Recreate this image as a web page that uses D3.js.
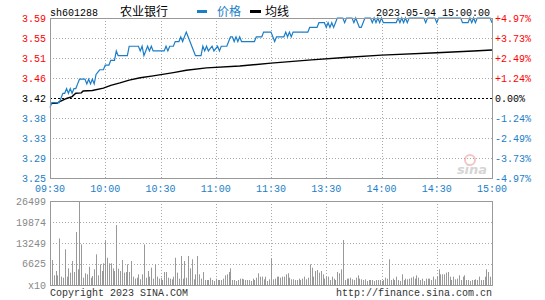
<!DOCTYPE html>
<html>
<head>
<meta charset="utf-8">
<script src="https://cdn.jsdelivr.net/npm/d3@7"></script>
<style>
  body { margin: 0; background: #fff; }
  svg { display: block; }
  text { font-family: "Liberation Mono", "DejaVu Sans Mono", monospace; font-size: 10px; }
  .cjk { font-family: "Noto Sans CJK SC", sans-serif; font-size: 12px; }
</style>
</head>
<body>
<script>
var W = 545, H = 300;

// chart data
var stockCode = 'sh601288',
    stockName = '农业银行',
    dateText = '2023-05-04 15:00:00',
    prevClose = 3.42;

// price tick values (evenly spaced around prev close) and labels
var priceTicks = [3.59, 3.5475, 3.505, 3.4625, 3.42, 3.3775, 3.335, 3.2925, 3.25];
var priceLabels = ['3.59', '3.55', '3.51', '3.46', '3.42', '3.38', '3.33', '3.29', '3.25'];
var pctLabels = ['+4.97%', '+3.73%', '+2.49%', '+1.24%', '0.00%', '-1.24%', '-2.49%', '-3.73%', '-4.97%'];

// time ticks in minutes from 09:30 (trading minutes)
var timeTicks = [0, 30, 60, 90, 120, 150, 180, 210, 240];
var timeLabels = ['09:30', '10:00', '10:30', '11:00', '11:30', '13:30', '14:00', '14:30', '15:00'];

// volume ticks
var volTicks = [26499, 19874, 13249, 6625];
var volLabels = ['26499', '19874', '13249', '6625'];

// price key points [minute, price]
var pricePts = [
  [0, 3.40], [1, 3.41], [5, 3.41], [6, 3.42], [7, 3.43], [8, 3.43], [9, 3.44], [10, 3.43], [11, 3.44],
  [12, 3.43], [13, 3.44], [14, 3.44], [15, 3.45], [16, 3.46], [19, 3.46], [20, 3.45], [21, 3.46],
  [22, 3.45], [23, 3.46], [24, 3.45], [25, 3.47], [27, 3.48], [29, 3.48], [30, 3.49], [32, 3.49],
  [33, 3.50], [35, 3.50], [36, 3.52], [37, 3.51], [42, 3.51], [43, 3.53], [48, 3.53], [49, 3.52],
  [50, 3.53], [51, 3.51], [52, 3.52], [53, 3.53], [54, 3.52], [55, 3.53], [56, 3.52], [62, 3.52],
  [63, 3.53], [64, 3.52], [65, 3.53], [67, 3.53], [68, 3.54], [70, 3.54], [71, 3.55], [72, 3.54],
  [73, 3.55], [74, 3.56], [75, 3.55], [76, 3.54], [77, 3.53], [78, 3.52], [79, 3.51], [82, 3.51],
  [83, 3.53], [84, 3.52], [85, 3.53], [86, 3.52], [88, 3.53], [89, 3.52], [91, 3.53], [92, 3.52],
  [93, 3.53], [96, 3.53], [97, 3.54], [98, 3.55], [99, 3.55], [100, 3.54], [101, 3.55], [102, 3.54],
  [103, 3.55], [104, 3.54], [111, 3.54], [112, 3.55], [115, 3.55], [116, 3.56], [120, 3.56],
  [121, 3.55], [122, 3.54], [123, 3.55], [127, 3.55], [128, 3.56], [129, 3.55], [130, 3.56],
  [131, 3.55], [132, 3.56], [140, 3.56], [141, 3.57], [145, 3.57], [146, 3.58], [149, 3.58],
  [150, 3.57], [151, 3.58], [152, 3.57], [153, 3.58], [154, 3.57], [155, 3.58], [156, 3.59],
  [159, 3.59], [160, 3.58], [161, 3.59], [164, 3.59], [165, 3.58], [166, 3.59], [167, 3.58],
  [168, 3.57], [169, 3.57], [170, 3.58], [171, 3.59], [174, 3.59], [175, 3.58], [176, 3.59],
  [177, 3.58], [178, 3.59], [179, 3.58], [180, 3.59], [181, 3.58], [188, 3.58], [189, 3.59],
  [190, 3.58], [191, 3.59], [192, 3.58], [193, 3.59], [194, 3.58], [195, 3.59], [203, 3.59],
  [204, 3.58], [205, 3.59], [209, 3.59], [210, 3.58], [211, 3.59], [223, 3.59], [224, 3.58],
  [227, 3.58], [228, 3.59], [229, 3.58], [230, 3.59], [231, 3.58], [232, 3.59], [239, 3.59],
  [240, 3.58]
];

// average price key points [minute, price]
var avgPts = [
  [0, 3.408], [4, 3.409], [5, 3.412], [9, 3.419], [12, 3.423], [14, 3.430], [17, 3.431], [18, 3.435],
  [23, 3.436], [29, 3.441], [33, 3.447], [38, 3.452], [43, 3.458], [49, 3.463], [56, 3.467],
  [67, 3.474], [74, 3.479], [85, 3.484], [103, 3.488], [120, 3.494], [142, 3.501], [160, 3.506],
  [180, 3.511], [210, 3.516], [230, 3.520], [240, 3.522]
];

// volume per minute (x10)
var volume = [
  12300, 7900, 3050, 4420, 3050, 14700, 2630, 2300, 11250, 2630,
  5260, 3900, 7575, 4100, 16700, 4950, 26499, 12800, 2300, 3700,
  3370, 5790, 2300, 2840, 4950, 9680, 3050, 6520, 4420, 6840,
  13900, 8600, 6840, 6840, 5260, 4420, 18900, 5150, 4420, 7900,
  3900, 4100, 6520, 4100, 7575, 2630, 2000, 2300, 3370, 1790,
  3370, 12800, 2300, 4420, 2630, 5470, 2000, 6520, 2630, 2000,
  2300, 1580, 4100, 4100, 2300, 2000, 1790, 2630, 8600, 3900,
  2000, 9150, 2000, 7575, 2300, 9150, 5260, 8100, 1790, 3370,
  9150, 3370, 2000, 4100, 1580, 1580, 1580, 2300, 1580, 1260,
  2000, 1580, 1580, 1580, 2000, 3050, 3370, 4100, 5260, 1580,
  1580, 1260, 1580, 2000, 2000, 1790, 1580, 1580, 1580, 1260,
  2000, 1580, 2300, 3700, 2630, 2630, 1790, 2630, 1260, 1790,
  8400, 1790, 2000, 2630, 2630, 2300, 2630, 2630, 3370, 3700,
  2300, 1790, 1790, 1580, 1580, 2000, 1580, 2000, 2630, 1790,
  2300, 6520, 5470, 2630, 4420, 4730, 3900, 4420, 3370, 2000,
  2630, 2630, 1580, 2630, 2000, 1580, 4100, 3700, 4950, 14200,
  1580, 2000, 2000, 2300, 1790, 1580, 2300, 3050, 2000, 1790,
  1580, 1790, 1260, 1580, 1580, 1580, 1260, 1580, 1580, 1580,
  1260, 1580, 2300, 2000, 8100, 1580, 2000, 1580, 2630, 1580,
  1260, 3370, 1580, 2000, 1790, 2000, 2300, 2630, 2000, 3050,
  2300, 1580, 2000, 1260, 2000, 2000, 2000, 1580, 2630, 1790,
  2630, 4950, 3370, 3370, 3370, 3900, 4100, 2630, 1580, 2630,
  1790, 2000, 3050, 1580, 2630, 3050, 1580, 1580, 1260, 1580,
  1580, 1790, 1580, 2630, 1580, 1580, 2630, 4950, 4100, 2630,
  1260
];

var blue = '#1a7ec8', red = '#ff0000', gridColor = '#aaa', borderColor = '#999';

var svg = d3.select('body').append('svg')
    .attr('width', W)
    .attr('height', H);

svg.append('rect').attr('width', W).attr('height', H).attr('fill', '#fff');

// scales
var x = d3.scaleLinear().domain([0, 240]).range([50, 492]);
var y = d3.scaleLinear().domain([3.25, 3.59]).range([178, 18]);
var yv = d3.scaleLinear().domain([0, 26499]).range([285, 201]);

function px(v) { return Math.round(v) + 0.5; }

function labelColor(i) {
    if (i < 4) return red;
    if (i == 4) return '#000';
    return blue;
}

// ---- price panel grid
var grid = svg.append('g');
grid.selectAll('.hg').data(priceTicks.slice(1, -1)).enter()
    .append('line')
    .attr('x1', 50).attr('x2', 492)
    .attr('y1', function (d) { return px(y(d)); })
    .attr('y2', function (d) { return px(y(d)); })
    .attr('stroke', function (d) { return d == prevClose ? '#000' : gridColor; })
    .attr('stroke-dasharray', function (d) { return d == prevClose ? '2,2' : '1,2'; });

grid.selectAll('.vg').data(timeTicks.slice(1, -1)).enter()
    .append('line')
    .attr('x1', function (d) { return px(x(d)); })
    .attr('x2', function (d) { return px(x(d)); })
    .attr('y1', 18).attr('y2', 178)
    .attr('stroke', gridColor)
    .attr('stroke-dasharray', '1,2');

// ---- volume panel grid
grid.selectAll('.vhg').data(volTicks.slice(1)).enter()
    .append('line')
    .attr('x1', 50).attr('x2', 492)
    .attr('y1', function (d) { return px(yv(d)); })
    .attr('y2', function (d) { return px(yv(d)); })
    .attr('stroke', gridColor)
    .attr('stroke-dasharray', '1,2');

grid.selectAll('.vvg').data(timeTicks.slice(1, -1)).enter()
    .append('line')
    .attr('x1', function (d) { return px(x(d)); })
    .attr('x2', function (d) { return px(x(d)); })
    .attr('y1', 201).attr('y2', 285)
    .attr('stroke', gridColor)
    .attr('stroke-dasharray', '1,2');

// watermark
var wm = svg.append('g').attr('opacity', 0.35);
wm.append('circle').attr('cx', 470).attr('cy', 160).attr('r', 5).attr('fill', 'none').attr('stroke', '#e06060').attr('stroke-width', 2);
wm.append('text').attr('x', 472).attr('y', 174)
    .attr('text-anchor', 'middle')
    .style('font-family', 'DejaVu Sans')
    .style('font-size', '13px')
    .style('font-style', 'italic')
    .style('font-weight', 'bold')
    .attr('fill', '#888')
    .text('sina');

// ---- volume bars
svg.append('g').selectAll('line').data(volume).enter()
    .append('line')
    .attr('x1', function (d, i) { return px(x(i)); })
    .attr('x2', function (d, i) { return px(x(i)); })
    .attr('y1', yv(0))
    .attr('y2', function (d) { return yv(d); })
    .attr('stroke', '#999')
    .attr('stroke-width', 1);

// ---- lines
var line = d3.line()
    .x(function (d) { return x(d[0]); })
    .y(function (d) { return y(d[1]); });

svg.append('path')
    .datum(avgPts)
    .attr('d', line)
    .attr('fill', 'none')
    .attr('stroke', '#000')
    .attr('stroke-width', 1.4);

svg.append('path')
    .datum(pricePts)
    .attr('d', line)
    .attr('fill', 'none')
    .attr('stroke', blue)
    .attr('stroke-width', 1.2);

// ---- borders
svg.append('rect').attr('x', 50.5).attr('y', 18.5).attr('width', 442).attr('height', 160)
    .attr('fill', 'none').attr('stroke', borderColor);
svg.append('rect').attr('x', 50.5).attr('y', 201.5).attr('width', 442).attr('height', 84)
    .attr('fill', 'none').attr('stroke', borderColor);

// ---- axis labels
svg.append('g').selectAll('text').data(priceTicks).enter()
    .append('text')
    .attr('x', 46)
    .attr('y', function (d) { return y(d); })
    .attr('dy', '0.35em')
    .attr('text-anchor', 'end')
    .attr('fill', function (d, i) { return labelColor(i); })
    .text(function (d, i) { return priceLabels[i]; });

svg.append('g').selectAll('text').data(priceTicks).enter()
    .append('text')
    .attr('x', 495)
    .attr('y', function (d) { return y(d); })
    .attr('dy', '0.35em')
    .attr('fill', function (d, i) { return labelColor(i); })
    .text(function (d, i) { return pctLabels[i]; });

svg.append('g').selectAll('text').data(timeTicks).enter()
    .append('text')
    .attr('x', function (d) { return x(d); })
    .attr('y', 188)
    .attr('dy', '0.35em')
    .attr('text-anchor', 'middle')
    .attr('fill', blue)
    .text(function (d, i) { return timeLabels[i]; });

svg.append('g').selectAll('text').data(volTicks).enter()
    .append('text')
    .attr('x', 46)
    .attr('y', function (d) { return yv(d); })
    .attr('dy', '0.35em')
    .attr('text-anchor', 'end')
    .attr('fill', '#888')
    .text(function (d, i) { return volLabels[i]; });

svg.append('text').attr('x', 46).attr('y', yv(0)).attr('dy', '0.35em')
    .attr('text-anchor', 'end').attr('fill', '#888').text('x10');

// ---- header
svg.append('text').attr('x', 50).attr('y', 12).attr('dy', '0.35em').attr('fill', '#000').text(stockCode);
svg.append('text').attr('class', 'cjk').attr('x', 120).attr('y', 12).attr('dy', '0.35em').attr('fill', '#000').text(stockName);

svg.append('line').attr('x1', 197).attr('x2', 207).attr('y1', 11.5).attr('y2', 11.5)
    .attr('stroke', blue).attr('stroke-width', 3);
svg.append('text').attr('class', 'cjk').attr('x', 217).attr('y', 12).attr('dy', '0.35em').attr('fill', blue).text('价格');
svg.append('line').attr('x1', 250).attr('x2', 261).attr('y1', 11.5).attr('y2', 11.5)
    .attr('stroke', '#000').attr('stroke-width', 3);
svg.append('text').attr('class', 'cjk').attr('x', 265).attr('y', 12).attr('dy', '0.35em').attr('fill', '#000').text('均线');

svg.append('text').attr('x', 490).attr('y', 12).attr('dy', '0.35em').attr('text-anchor', 'end')
    .attr('fill', '#000').text(dateText);

// ---- footer
svg.append('text').attr('x', 50).attr('y', 292).attr('dy', '0.35em').attr('fill', '#333').text('Copyright 2023 SINA.COM');
svg.append('text').attr('x', 492).attr('y', 292).attr('dy', '0.35em').attr('text-anchor', 'end')
    .attr('fill', '#333').text('http://finance.sina.com.cn');
</script>
</body>
</html>
